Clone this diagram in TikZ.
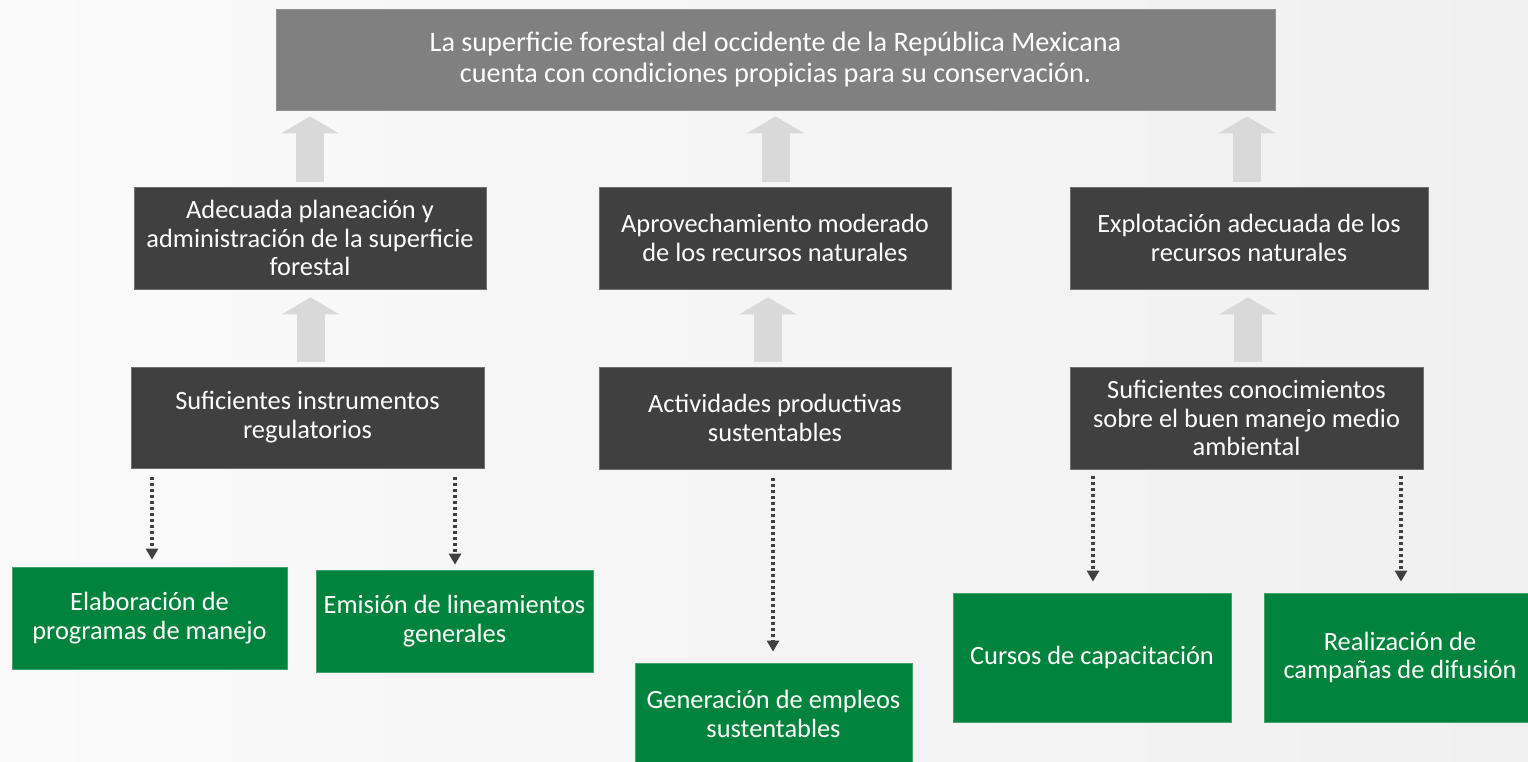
\documentclass[tikz,border=0pt]{standalone}
\usepackage{fontspec}
\setmainfont{Carlito}
\usetikzlibrary{arrows.meta}
\definecolor{cTop}{HTML}{808080}
\definecolor{cDark}{HTML}{404040}
\definecolor{cGreen}{HTML}{00843D}
\definecolor{cArrow}{HTML}{D9D9D9}
\definecolor{cBgA}{HTML}{FAFAFA}
\definecolor{cBgB}{HTML}{F0F0F0}
\begin{document}
\begin{tikzpicture}[x=1pt,y=-1pt,
 box/.style={rectangle, inner sep=0pt, align=center, text=white, font=\fontsize{26.4}{28.8}\selectfont, line width=0.8pt},
 topbox/.style={box, fill=cTop, draw=cTop!85!white, font=\fontsize{28.2}{31}\selectfont},
 darkbox/.style={box, fill=cDark, draw=cDark!75!white},
 greenbox/.style={box, fill=cGreen, draw=cGreen!75!white},
 bigarrow/.style={draw=cArrow, line width=28pt, -{Triangle[width=57pt,length=17pt]}},
 dotarrow/.style={draw=cDark, line width=3.5pt, dash pattern=on 3pt off 3pt, -{Triangle[width=12pt,length=11pt]}}
]
\clip (0,0) rectangle (1528,761);
\shade[left color=cBgA, right color=cBgB] (0,0) rectangle (1528,761);

% top
\node[topbox, minimum width=999pt, minimum height=101pt] (top) at (775.5,59.5)
 {La superficie forestal del occidente de la República Mexicana\\cuenta con condiciones propicias para su conservación.};

% row a
\node[darkbox, minimum width=352pt, minimum height=102pt] (a1) at (310,238)
 {Adecuada planeación y\\administración de la superficie\\forestal};
\node[darkbox, minimum width=352pt, minimum height=102pt] (a2) at (775,238)
 {Aprovechamiento moderado\\de los recursos naturales};
\node[darkbox, minimum width=358pt, minimum height=102pt] (a3) at (1249,238)
 {Explotación adecuada de los\\recursos naturales};

% row b
\node[darkbox, minimum width=353pt, minimum height=101pt] (b1) at (307.5,417.5)
 {Suficientes instrumentos\\regulatorios};
\node[darkbox, minimum width=352pt, minimum height=102pt] (b2) at (775,418)
 {Actividades productivas\\sustentables};
\node[darkbox, minimum width=353pt, minimum height=102pt] (b3) at (1246.5,418)
 {Suficientes conocimientos\\sobre el buen manejo medio\\ambiental};

% green row
\node[greenbox, minimum width=275pt, minimum height=102pt] (g1) at (149.5,618)
 {Elaboración de\\programas de manejo};
\node[greenbox, minimum width=277pt, minimum height=102pt] (g2) at (454.5,621)
 {Emisión de lineamientos\\generales};
\node[greenbox, minimum width=277pt, minimum height=102pt] (g3) at (773.5,714)
 {Generación de empleos\\sustentables};
\node[greenbox, minimum width=278pt, minimum height=129pt] (g4) at (1092,657.5)
 {Cursos de capacitación};
\node[greenbox, minimum width=272pt, minimum height=129pt] (g5) at (1400,657.5)
 {Realización de\\campañas de difusión};

% big arrows
\draw[bigarrow, shorten <=5pt, shorten >=6pt] (a1.north) -- (top.south -| a1.north);
\draw[bigarrow, shorten <=5pt, shorten >=6pt] ([xshift=0.5pt]a2.north) -- ([xshift=0.5pt]top.south -| a2.north);
\draw[bigarrow, shorten <=5pt, shorten >=6pt] ([xshift=-2pt]a3.north) -- ([xshift=-2pt]top.south -| a3.north);
\draw[bigarrow, shorten <=5pt, shorten >=8pt] ([xshift=3pt]b1.north) -- ([xshift=0.5pt]a1.south);
\draw[bigarrow, shorten <=5pt, shorten >=8pt] ([xshift=-7pt]b2.north) -- ([xshift=-7pt]a2.south);
\draw[bigarrow, shorten <=5pt, shorten >=8pt] ([xshift=1.5pt]b3.north) -- ([xshift=-1pt]a3.south);

% dotted arrows
\draw[dotarrow, shorten <=9pt, shorten >=7pt] ([xshift=-155.5pt]b1.south) -- ([xshift=2.5pt]g1.north);
\draw[dotarrow, shorten <=9pt, shorten >=5pt] ([xshift=147.5pt]b1.south) -- ([xshift=0.5pt]g2.north);
\draw[dotarrow, shorten <=9pt, shorten >=11pt] ([xshift=-2pt]b2.south) -- ([xshift=-0.5pt]g3.north);
\draw[dotarrow, shorten <=7pt, shorten >=11pt] ([xshift=-153.5pt]b3.south) -- ([xshift=1pt]g4.north);
\draw[dotarrow, shorten <=7pt, shorten >=11pt] ([xshift=154.5pt]b3.south) -- ([xshift=1pt]g5.north);
\end{tikzpicture}
\end{document}
